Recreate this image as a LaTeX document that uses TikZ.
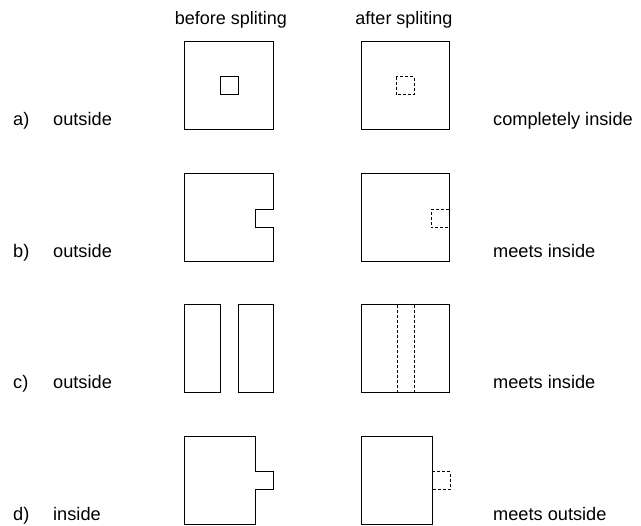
\documentclass[tikz,border=0pt]{standalone}
\usepackage{fontspec}
\setmainfont{Liberation Sans}
\begin{document}
\begin{tikzpicture}[x=1pt,y=-1pt,
  shapeline/.style={line width=1pt, line join=miter},
  dashline/.style={line width=1pt, dash pattern=on 3pt off 2pt},
  lbl/.style={anchor=base west, inner sep=0pt, font=\fontsize{18.2}{20}\selectfont},
  hdr/.style={anchor=base, inner sep=0pt, font=\fontsize{18}{20}\selectfont}]
\useasboundingbox (0,0) rectangle (641,526);
% headers
\node[hdr] (hbefore) at (231,25) {before spliting};
\node[hdr] (hafter) at (404,25) {after spliting};
% row labels
\node[lbl] (la) at (13,126) {a)};
\node[lbl] (lao) at (53,126) {outside};
\node[lbl] (ra) at (493,126) {completely inside};
\node[lbl] (lb) at (13,258) {b)};
\node[lbl] (lbo) at (53,258) {outside};
\node[lbl] (rb) at (493,258) {meets inside};
\node[lbl] (lc) at (13,389) {c)};
\node[lbl] (lco) at (53,389) {outside};
\node[lbl] (rc) at (493,389) {meets inside};
\node[lbl] (ld) at (13,521) {d)};
\node[lbl] (ldo) at (53,521) {inside};
\node[lbl] (rd) at (493,521) {meets outside};
% row a
\draw[shapeline] (184,42) rectangle (273,130);
\draw[shapeline] (220,77) rectangle (238,95);
\draw[shapeline] (361,42) rectangle (449,130);
\draw[dashline] (396,77) rectangle (414,95);
% row b
\draw[shapeline] (184,174) -- (273,174) -- (273,210) -- (255,210) -- (255,228) -- (273,228) -- (273,262) -- (184,262) -- cycle;
\draw[shapeline] (361,174) rectangle (449,262);
\draw[dashline] (449,210) -- (431,210) -- (431,228) -- (449,228);
% row c
\draw[shapeline] (184,305) rectangle (220,393);
\draw[shapeline] (238,305) rectangle (273,393);
\draw[shapeline] (361,305) rectangle (449,393);
\draw[dashline] (397,305) -- (397,393);
\draw[dashline] (414,305) -- (414,393);
% row d
\draw[shapeline] (184,437) -- (255,437) -- (255,472) -- (273,472) -- (273,490) -- (255,490) -- (255,525) -- (184,525) -- cycle;
\draw[shapeline] (361,437) rectangle (432,525);
\draw[dashline] (432,472) -- (450,472) -- (450,490) -- (432,490);
\end{tikzpicture}
\end{document}
